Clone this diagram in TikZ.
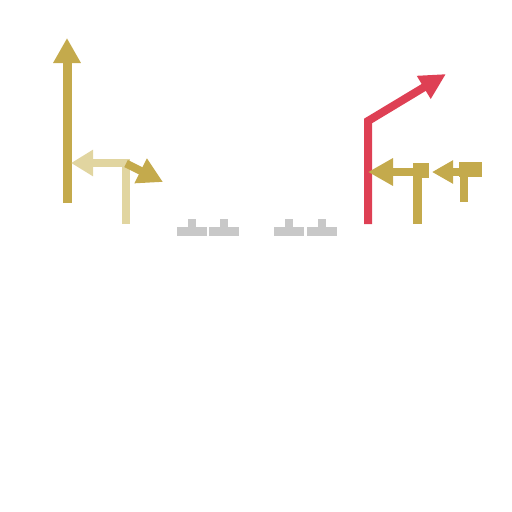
\documentclass[tikz,border=0pt]{standalone}
\usetikzlibrary{arrows.meta}
\definecolor{gold}{RGB}{196,170,76}
\definecolor{lightgold}{RGB}{225,213,160}
\definecolor{redc}{RGB}{222,64,84}
\definecolor{grayc}{RGB}{200,200,200}
\tikzset{
  goldline/.style={draw=gold, line width=8pt, line join=miter},
  lightline/.style={draw=lightgold, line width=8pt, line join=miter},
  redline/.style={draw=redc, line width=8pt, line join=miter},
  graybox/.style={fill=grayc, draw=none},
  goldbox/.style={fill=gold, draw=none}
}
\begin{document}
\begin{tikzpicture}[x=1pt,y=-1pt]
\useasboundingbox (0,0) rectangle (512,512);
% left group
\coordinate (a0) at (67,203);
\coordinate (a1) at (67,38);
\draw[goldline, line width=9pt, -{Triangle[length=25pt,width=26pt]}] (a0) -- (a1);
\coordinate (b0) at (126,224);
\coordinate (b1) at (126,163);
\coordinate (b2) at (71,163);
\draw[lightline, -{Triangle[length=22pt,width=25pt]}] (b0) -- (b1) -- (b2);
\coordinate (c0) at (126,163.5);
\coordinate (c1) at (163,182);
\draw[goldline, -{Triangle[length=25pt,width=26pt]}] (c0) -- (c1);
% gray T shapes
\foreach \x in {177,209,274,307}{
  \fill[graybox] (\x,227) rectangle ++(30,9);
  \fill[graybox] (\x+11,219) rectangle ++(8,9);
}
% red
\coordinate (r0) at (368,224);
\coordinate (r1) at (368,121);
\coordinate (r2) at (446,74);
\draw[redline, -{Triangle[length=26pt,width=25pt]}] (r0) -- (r1) -- (r2);
% right gold 1
\coordinate (g0) at (417,224);
\coordinate (g1) at (417,167);
\draw[goldline, line width=9pt] (g0) -- (g1);
\fill[goldbox] (413,163) rectangle (429,178);
\coordinate (g2) at (421,172);
\coordinate (g3) at (368,172);
\draw[goldline, -{Triangle[length=25pt,width=26pt]}] (g2) -- (g3);
% right gold 2
\coordinate (h0) at (464,202);
\coordinate (h1) at (464,167);
\draw[goldline] (h0) -- (h1);
\fill[goldbox] (459,162) rectangle (482,177);
\coordinate (h2) at (462,172);
\coordinate (h3) at (432,172);
\draw[goldline, -{Triangle[length=21pt,width=22pt]}] (h2) -- (h3);
\end{tikzpicture}
\end{document}
